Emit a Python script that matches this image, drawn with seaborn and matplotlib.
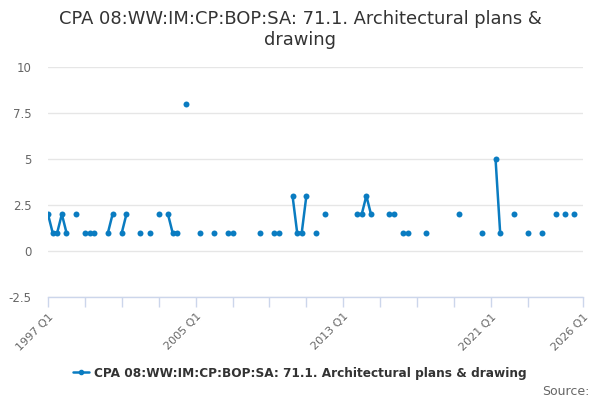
import numpy as np
import pandas as pd
import matplotlib
matplotlib.use("Agg")
import matplotlib.pyplot as plt
from matplotlib.lines import Line2D
import seaborn as sns

# observed quarters and values (gaps are missing quarters)
quarters = [
    "1997 Q1", "1997 Q2", "1997 Q3", "1997 Q4", "1998 Q1", "1998 Q3",
    "1999 Q1", "1999 Q2", "1999 Q3", "2000 Q2", "2000 Q3", "2001 Q1",
    "2001 Q2", "2002 Q1", "2002 Q3", "2003 Q1", "2003 Q3", "2003 Q4",
    "2004 Q1", "2004 Q3", "2005 Q2", "2006 Q1", "2006 Q4", "2007 Q1",
    "2008 Q3", "2009 Q2", "2009 Q3", "2010 Q2", "2010 Q3", "2010 Q4",
    "2011 Q1", "2011 Q3", "2012 Q1", "2013 Q4", "2014 Q1", "2014 Q2",
    "2014 Q3", "2015 Q3", "2015 Q4", "2016 Q2", "2016 Q3", "2017 Q3",
    "2019 Q2", "2020 Q3", "2021 Q2", "2021 Q3", "2022 Q2", "2023 Q1",
    "2023 Q4", "2024 Q3", "2025 Q1", "2025 Q3",
]
values = [
    2, 1, 1, 2, 1, 2,
    1, 1, 1, 1, 2, 1,
    2, 1, 1, 2, 2, 1,
    1, 8, 1, 1, 1, 1,
    1, 1, 1, 3, 1, 1,
    3, 1, 2, 2, 2, 3,
    2, 2, 2, 1, 1, 1,
    2, 1, 5, 1, 2, 1,
    1, 2, 2, 2,
]

tick_labels = ["1997 Q1", "2005 Q1", "2013 Q1", "2021 Q1", "2026 Q1"]
series_name = "CPA 08:WW:IM:CP:BOP:SA: 71.1. Architectural plans & drawing"
title = "CPA 08:WW:IM:CP:BOP:SA: 71.1. Architectural plans &\ndrawing"


def q_index(label):
    # quarters since 1997 Q1
    yr, q = label.split(" Q")
    return (int(yr) - 1997) * 4 + int(q) - 1


df = pd.DataFrame({"quarter": quarters, "value": values})
df["t"] = df["quarter"].map(q_index)
# break the line wherever a quarter is missing
df["seg"] = (df["t"].diff() != 1).cumsum()

sns.set_theme(style="white")
plt.rcParams["font.family"] = ["DejaVu Sans"]

blue = "#0a7cc1"
fig = plt.figure(figsize=(6, 4), dpi=100)
ax = fig.add_axes([0.08, 0.2575, 0.892, 0.575])

sns.lineplot(data=df, x="t", y="value", units="seg", estimator=None,
             color=blue, linewidth=1.8, marker="o", markersize=4.3,
             markeredgewidth=0, ax=ax)

ax.set_xlim(0, q_index("2026 Q1"))
ax.set_ylim(-2.5, 10)
ax.set_yticks([-2.5, 0, 2.5, 5, 7.5, 10])
ax.set_yticklabels(["-2.5", "0", "2.5", "5", "7.5", "10"])
ax.yaxis.grid(True, color="#e6e6e6", linewidth=1)
ax.set_axisbelow(True)

minor = list(range(0, 105, 8)) + [q_index("2026 Q1")]
ax.set_xticks(minor, minor=True)
ax.set_xticks([q_index(l) for l in tick_labels])
ax.set_xticklabels(tick_labels, rotation=45, ha="right", rotation_mode="anchor")
ax.tick_params(axis="x", which="both", length=7.5, width=1, color="#ccd6eb",
               direction="out", bottom=True, labelsize=8, labelcolor="#666666",
               pad=3)
ax.tick_params(axis="y", length=0, labelsize=8.5, labelcolor="#666666", pad=12)

for s in ["top", "right", "left"]:
    ax.spines[s].set_visible(False)
ax.spines["bottom"].set_color("#ccd6eb")
ax.spines["bottom"].set_linewidth(1)
ax.set_xlabel("")
ax.set_ylabel("")

fig.suptitle(title, x=0.5, y=0.975, fontsize=12.9, color="#333333",
             linespacing=1.2)

handle = Line2D([], [], color=blue, linewidth=1.8, marker="o", markersize=3)
fig.legend([handle], [series_name], loc="center", bbox_to_anchor=(0.5, 0.067),
           frameon=False, handlelength=1.3, handletextpad=0.4,
           prop={"size": 8.75, "weight": "bold"}, labelcolor="#333333")
fig.text(0.982, 0.022, "Source:", ha="right", va="center", fontsize=9,
         color="#666666")

fig.savefig("out.png", dpi=100)
